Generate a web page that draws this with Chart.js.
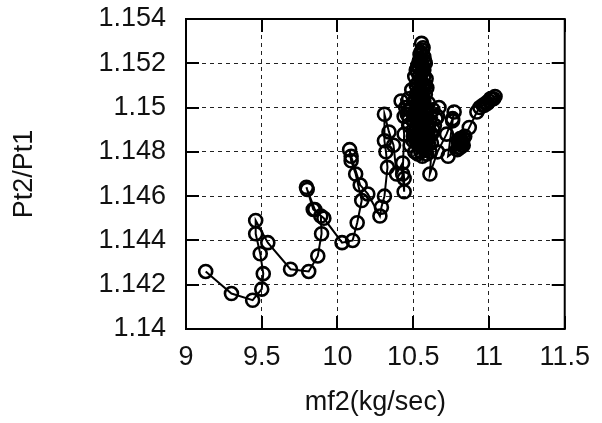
<!DOCTYPE html>
<html lang="en">
<head>
    <meta charset="UTF-8">
    <title>Pt2/Pt1 vs mf2</title>
    <script src="https://cdn.jsdelivr.net/npm/chart.js"></script>
    <style>
        html, body { margin: 0; padding: 0; background: #fff; }
        #wrap { width: 602px; height: 423px; }
    </style>
</head>
<body>
<div id="wrap"><canvas id="myChart" width="602" height="423"></canvas></div>

<script>
    // mass flow (x) and pressure ratio (y)
    const mf2 = [
        9.13, 9.30, 9.44, 9.50, 9.51, 9.49, 9.46, 9.46, 9.54, 9.69,
        9.81, 9.87, 9.895, 9.89, 9.85, 9.80, 9.795, 9.84, 9.91, 10.03,
        10.10, 10.13, 10.16, 10.12, 10.09, 10.08, 10.09, 10.15, 10.20, 10.28,
        10.29, 10.31, 10.33, 10.32, 10.31, 10.31, 10.34, 10.37, 10.39, 10.43,
        10.44, 10.44, 10.43, 10.44, 10.42, 10.45, 10.44,
        10.46, 10.50, 10.53, 10.55, 10.58, 10.57, 10.55, 10.53, 10.52, 10.53,
        10.54, 10.55, 10.555, 10.56, 10.555, 10.54, 10.535, 10.54, 10.56, 10.58,
        10.61, 10.62, 10.60, 10.58, 10.56, 10.55, 10.56, 10.57, 10.58, 10.585,
        10.58, 10.57, 10.55, 10.54, 10.56, 10.59, 10.62, 10.65, 10.67, 10.63,
        10.60, 10.57, 10.56, 10.55, 10.54, 10.53, 10.53, 10.52, 10.49, 10.47,
        10.50, 10.54, 10.57, 10.56, 10.55, 10.57, 10.59, 10.60, 10.60, 10.52,
        10.51, 10.53, 10.55, 10.57, 10.58, 10.56, 10.54, 10.52, 10.50, 10.51,
        10.47, 10.50, 10.48, 10.51, 10.53, 10.50, 10.48, 10.51, 10.49, 10.52,
        10.55, 10.59, 10.61, 10.58, 10.62, 10.59, 10.55, 10.52, 10.50, 10.53,
        10.57, 10.60, 10.57, 10.54, 10.57, 10.59, 10.57, 10.545, 10.52, 10.545,
        10.565, 10.575, 10.56, 10.58, 10.55, 10.53, 10.51, 10.64, 10.66, 10.63,
        10.61, 10.66, 10.72, 10.76, 10.77, 10.76, 10.73,
        10.79, 10.80, 10.81, 10.82, 10.83, 10.81, 10.80, 10.82, 10.815, 10.80, 10.83, 10.84,
        10.87, 10.92, 10.94, 10.96, 10.98, 11.00, 11.02, 11.04, 11.03, 11.01, 10.99, 10.97
    ];
    const pr = [
        1.1426, 1.1416, 1.1413, 1.1418, 1.1425, 1.1434, 1.1443, 1.1449, 1.1439, 1.1427,
        1.1426, 1.1433, 1.1443, 1.1451, 1.1454, 1.1463, 1.1464, 1.1454, 1.1450, 1.1439,
        1.1440, 1.1448, 1.1458, 1.1470, 1.1476, 1.1481, 1.1478, 1.1465, 1.1461, 1.1451,
        1.1455, 1.1460, 1.1473, 1.1480, 1.1485, 1.1497, 1.1489, 1.1483, 1.1470, 1.1475,
        1.1468, 1.1462, 1.1470, 1.1488, 1.1503, 1.1500, 1.1496,
        1.1497, 1.1490, 1.1484, 1.1480, 1.1481, 1.1488, 1.1495, 1.1503, 1.1510, 1.1516,
        1.1521, 1.1525, 1.1529, 1.1526, 1.1520, 1.1514, 1.1507, 1.1499, 1.1492, 1.1486,
        1.1480, 1.1484, 1.1491, 1.1497, 1.1505, 1.1512, 1.1518, 1.1523, 1.1520, 1.1513,
        1.1506, 1.1499, 1.1493, 1.1487, 1.1482, 1.1479, 1.1488, 1.1495, 1.1500, 1.1499,
        1.1502, 1.1509, 1.1516, 1.1522, 1.1518, 1.1511, 1.1502, 1.1495, 1.1500, 1.1504,
        1.1497, 1.1492, 1.1485, 1.1478, 1.1483, 1.1490, 1.1495, 1.1490, 1.1484, 1.1506,
        1.1514, 1.1519, 1.1524, 1.1517, 1.1510, 1.1501, 1.1494, 1.1488, 1.1494, 1.1486,
        1.1492, 1.1487, 1.1483, 1.1480, 1.1485, 1.1494, 1.1499, 1.1503, 1.1508, 1.1499,
        1.1501, 1.1498, 1.1494, 1.1490, 1.1488, 1.1485, 1.1487, 1.1491, 1.1485, 1.1479,
        1.1482, 1.1487, 1.1494, 1.1497, 1.1503, 1.1509, 1.1514, 1.1508, 1.1517, 1.1524,
        1.1527, 1.1521, 1.1510, 1.1500, 1.1491, 1.1494, 1.1497, 1.1492, 1.1496, 1.1490,
        1.1470, 1.1480, 1.1488, 1.1495, 1.1498, 1.1494, 1.1478,
        1.1481, 1.1484, 1.1482, 1.1485, 1.1486, 1.1486, 1.1482, 1.1483, 1.1484, 1.1485, 1.1483, 1.1487,
        1.1491, 1.1498, 1.1500, 1.1501, 1.1502, 1.1503, 1.1504, 1.1505, 1.1504, 1.1504, 1.1502, 1.1501
    ];

    const xTicks = ['9', '9.5', '10', '10.5', '11', '11.5'];
    const yTicks = ['1.14', '1.142', '1.144', '1.146', '1.148', '1.15', '1.152', '1.154'];

    const points = mf2.map(function (x, i) { return {x: x, y: pr[i]}; });

    const FONT = {family: "'Liberation Sans', Arial, sans-serif", size: 27};
    const INK = '#111';

    // gnuplot style: closed frame with tick marks pointing inward on all four sides
    const framePlugin = {
        id: 'frame',
        afterDraw(chart) {
            const ctx = chart.ctx;
            const a = chart.chartArea;
            const xs = chart.scales.x, ys = chart.scales.y;
            const len = 13;
            ctx.save();
            ctx.strokeStyle = '#000';
            ctx.lineWidth = 2;
            ctx.beginPath();
            xs.ticks.forEach(function (t) {
                const px = Math.round(xs.getPixelForValue(t.value));
                ctx.moveTo(px, a.bottom); ctx.lineTo(px, a.bottom - len);
                ctx.moveTo(px, a.top); ctx.lineTo(px, a.top + len);
            });
            ys.ticks.forEach(function (t) {
                const py = Math.round(ys.getPixelForValue(t.value));
                ctx.moveTo(a.left, py); ctx.lineTo(a.left + len, py);
                ctx.moveTo(a.right, py); ctx.lineTo(a.right - len, py);
            });
            ctx.stroke();
            ctx.strokeRect(a.left, a.top, a.right - a.left, a.bottom - a.top);
            ctx.restore();
        }
    };

    const ctx = document.getElementById('myChart').getContext('2d');
    const myChart = new Chart(ctx, {
        type: 'scatter',
        data: {
            datasets: [{
                label: 'Pt2/Pt1',
                data: points,
                showLine: true,
                borderColor: '#000',
                borderWidth: 2,
                pointRadius: 6.5,
                pointBorderWidth: 2.6,
                pointBorderColor: '#000',
                pointBackgroundColor: 'rgba(0,0,0,0)',
                pointHoverRadius: 6.5,
                tension: 0
            }]
        },
        options: {
            responsive: false,
            animation: false,
            events: [],
            layout: {padding: {top: 19, right: 33, left: 0, bottom: 0}},
            plugins: {legend: {display: false}, tooltip: {enabled: false}},
            scales: {
                x: {
                    type: 'linear',
                    min: 9,
                    max: 11.5,
                    afterFit: function (s) { s.height = 94; },
                    ticks: {
                        stepSize: 0.5,
                        padding: 12,
                        color: INK,
                        font: FONT,
                        maxRotation: 0,
                        callback: function (v, i) { return xTicks[i]; }
                    },
                    grid: {color: '#222', lineWidth: 1, drawTicks: false},
                    border: {display: false, dash: [4, 4]},
                    title: {display: true, text: 'mf2(kg/sec)', color: INK, font: FONT, padding: {top: 0, bottom: 4}}
                },
                y: {
                    type: 'linear',
                    min: 1.14,
                    max: 1.154,
                    afterFit: function (s) {
                        s.width = 186;
                        s.paddingTop = 0;
                        s.paddingBottom = 0;
                    },
                    ticks: {
                        stepSize: 0.002,
                        padding: 20,
                        color: INK,
                        font: FONT,
                        callback: function (v, i) { return yTicks[i]; }
                    },
                    grid: {color: '#222', lineWidth: 1, drawTicks: false},
                    border: {display: false, dash: [4, 4]},
                    title: {display: true, text: 'Pt2/Pt1', color: INK, font: FONT, padding: {top: 8, bottom: 0}}
                }
            }
        },
        plugins: [framePlugin]
    });
</script>
</body>
</html>
